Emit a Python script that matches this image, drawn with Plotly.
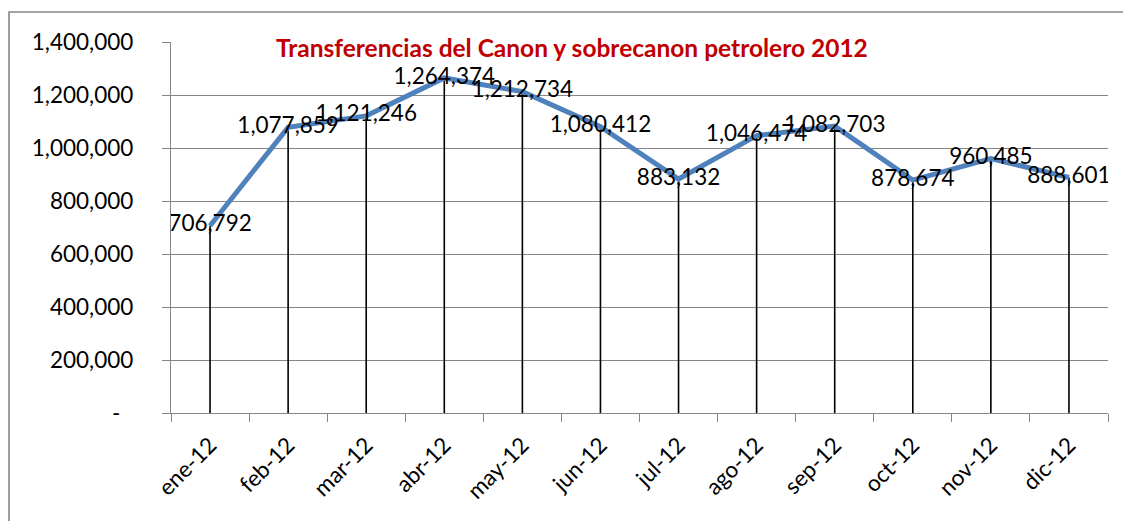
import plotly.graph_objects as go

# Monthly transfers of the petroleum canon and sobrecanon, 2012
months = ["ene-12", "feb-12", "mar-12", "abr-12", "may-12", "jun-12",
          "jul-12", "ago-12", "sep-12", "oct-12", "nov-12", "dic-12"]
transfers = [706792, 1077859, 1121246, 1264374, 1212734, 1080412,
             883132, 1046474, 1082703, 878674, 960485, 888601]

y_ticks = [0, 200000, 400000, 600000, 800000, 1000000, 1200000, 1400000]
y_tick_text = ["-\u2007"] + [f"{v:,}" for v in y_ticks[1:]]

title_text = "Transferencias del Canon y sobrecanon petrolero 2012"

FONT = "Lato, Calibri, sans-serif"
GRID = "#868686"
W, H = 1123, 521
ML, MR, MT, MB = 171, 15, 42, 108

fig = go.Figure()

# vertical drop lines from each point down to the category axis
drop_x, drop_y = [], []
for m, v in zip(months, transfers):
    drop_x += [m, m, None]
    drop_y += [0, v, None]
fig.add_trace(go.Scatter(
    x=drop_x, y=drop_y, mode="lines",
    line=dict(color="black", width=1.6),
    hoverinfo="skip", showlegend=False, connectgaps=False,
))

# main series with centred value labels
fig.add_trace(go.Scatter(
    x=months, y=transfers, mode="lines+text",
    line=dict(color="#4F81BD", width=5),
    text=[f"{v:,}" for v in transfers],
    textposition="middle center",
    textfont=dict(family=FONT, size=22.5, color="black"),
    hoverinfo="skip", showlegend=False,
))

pw = W - ML - MR
ph = H - MT - MB

fig.update_layout(
    width=W, height=H,
    margin=dict(l=ML, r=MR, t=MT, b=MB, pad=0),
    paper_bgcolor="white", plot_bgcolor="white",
    font=dict(family=FONT, color="black"),
    xaxis=dict(
        type="category", tickson="boundaries",
        range=[-0.5, len(months) - 0.5],
        showgrid=False, showline=True, linecolor=GRID, linewidth=1.3,
        ticks="outside", ticklen=8, tickcolor=GRID, tickwidth=1.3,
        tickangle=-45, tickfont=dict(family=FONT, size=22.5),
        ticklabelstandoff=9,
    ),
    yaxis=dict(
        range=[0, 1400000],
        tickvals=y_ticks, ticktext=y_tick_text,
        showgrid=True, gridcolor=GRID, gridwidth=1.3,
        showline=True, linecolor=GRID, linewidth=1.3,
        ticks="outside", ticklen=8, tickcolor=GRID, tickwidth=1.3,
        tickfont=dict(family=FONT, size=22.5),
        ticklabelstandoff=24, zeroline=False,
    ),
    annotations=[dict(
        text=f"<b>{title_text}</b>",
        xref="paper", yref="paper",
        x=(572 - ML) / pw, y=1 - (48 - MT) / ph,
        xanchor="center", yanchor="middle", showarrow=False,
        font=dict(family=FONT, size=24.5, color="#C00000"),
    )],
    shapes=[dict(
        type="rect", xref="paper", yref="paper",
        x0=(9 - ML) / pw, x1=(W + 20 - ML) / pw,
        y0=-(MB + 20) / ph, y1=1 + (MT - 12) / ph,
        line=dict(color=GRID, width=1.6), layer="below",
    )],
)

fig.write_html("out.html")
